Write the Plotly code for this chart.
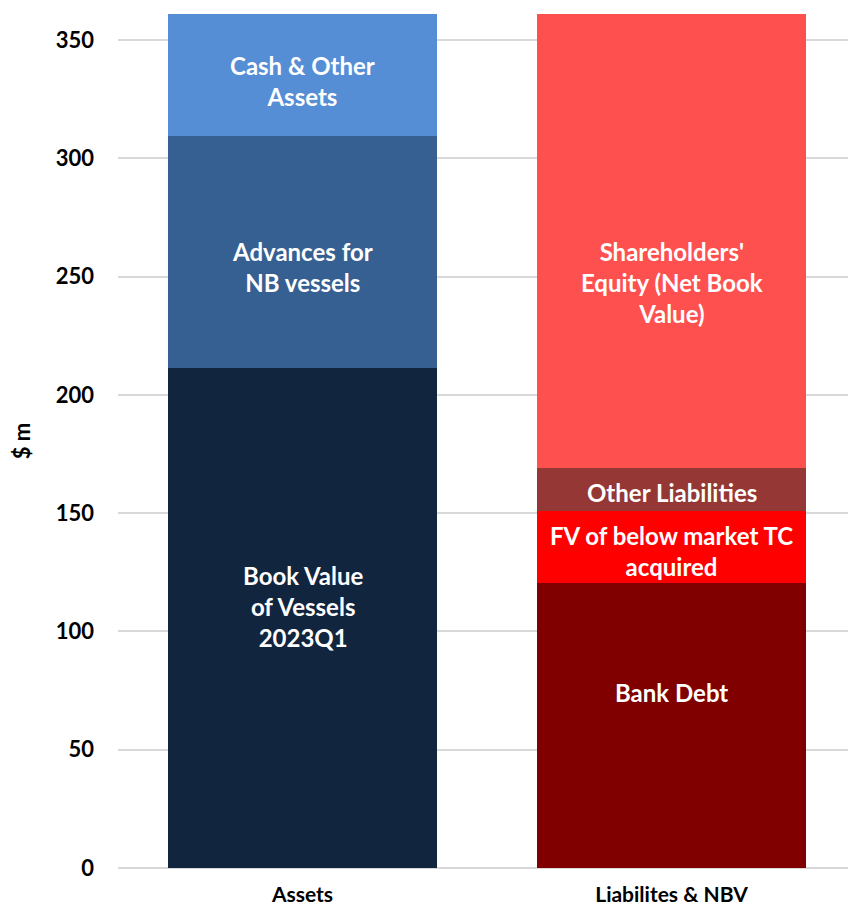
import plotly.graph_objects as go

# balance sheet segments ($ m), bottom to top
categories = ["Assets", "Liabilites & NBV"]

asset_names = ["Book Value<br>of Vessels<br>2023Q1", "Advances for<br>NB vessels", "Cash & Other<br>Assets"]
asset_values = [211.3, 98.1, 51.6]
asset_label_y = [110.7, 254.0, 332.6]
asset_colors = ["#12253F", "#376092", "#558ED5"]

liab_names = ["Bank Debt", "FV of below market TC<br>acquired", "Other Liabilities",
              "Shareholders'<br>Equity (Net Book<br>Value)"]
liab_values = [120.5, 30.4, 18.2, 191.9]
liab_label_y = [74.4, 134.2, 158.9, 247.3]
liab_colors = ["#800000", "#FF0000", "#953735", "#FF5050"]

y_ticks = [0, 50, 100, 150, 200, 250, 300, 350]

FONT = "Lato"

fig = go.Figure()

for name, val, col in zip(asset_names, asset_values, asset_colors):
    fig.add_trace(go.Bar(x=[categories[0]], y=[val], marker=dict(color=col, line=dict(width=0)),
                         name=name, showlegend=False, hoverinfo="skip"))
for name, val, col in zip(liab_names, liab_values, liab_colors):
    fig.add_trace(go.Bar(x=[categories[1]], y=[val], marker=dict(color=col, line=dict(width=0)),
                         name=name, showlegend=False, hoverinfo="skip"))

for name, ly in zip(asset_names, asset_label_y):
    fig.add_annotation(x=categories[0], y=ly, text=name, showarrow=False,
                       font=dict(family=FONT, size=24, color="white", weight="bold"))
for name, ly in zip(liab_names, liab_label_y):
    fig.add_annotation(x=categories[1], y=ly, text=name, showarrow=False,
                       font=dict(family=FONT, size=24, color="white", weight="bold"))

# page body has an 8px margin, so the figure is sized to fit inside the window
fig.update_layout(
    barmode="stack",
    bargap=0.27,
    width=848,
    height=901,
    plot_bgcolor="white",
    paper_bgcolor="white",
    margin=dict(l=110, r=0, t=6, b=41, autoexpand=False),
    font=dict(family=FONT, color="black"),
)

fig.update_yaxes(
    range=[0, 361],
    tickvals=y_ticks,
    automargin=False,
    showgrid=True,
    gridcolor="#D9D9D9",
    gridwidth=1.5,
    zeroline=True,
    zerolinecolor="#D9D9D9",
    zerolinewidth=1.5,
    ticks="",
    ticklabelstandoff=23,
    tickfont=dict(size=22, weight="bold"),
    title=dict(text="$ m", font=dict(size=22, weight="bold"), standoff=32),
)
fig.update_xaxes(
    automargin=False,
    tickfont=dict(size=21, weight="bold"),
    ticks="",
    ticklabelstandoff=12,
    showline=False,
)

fig.write_html("out.html")
